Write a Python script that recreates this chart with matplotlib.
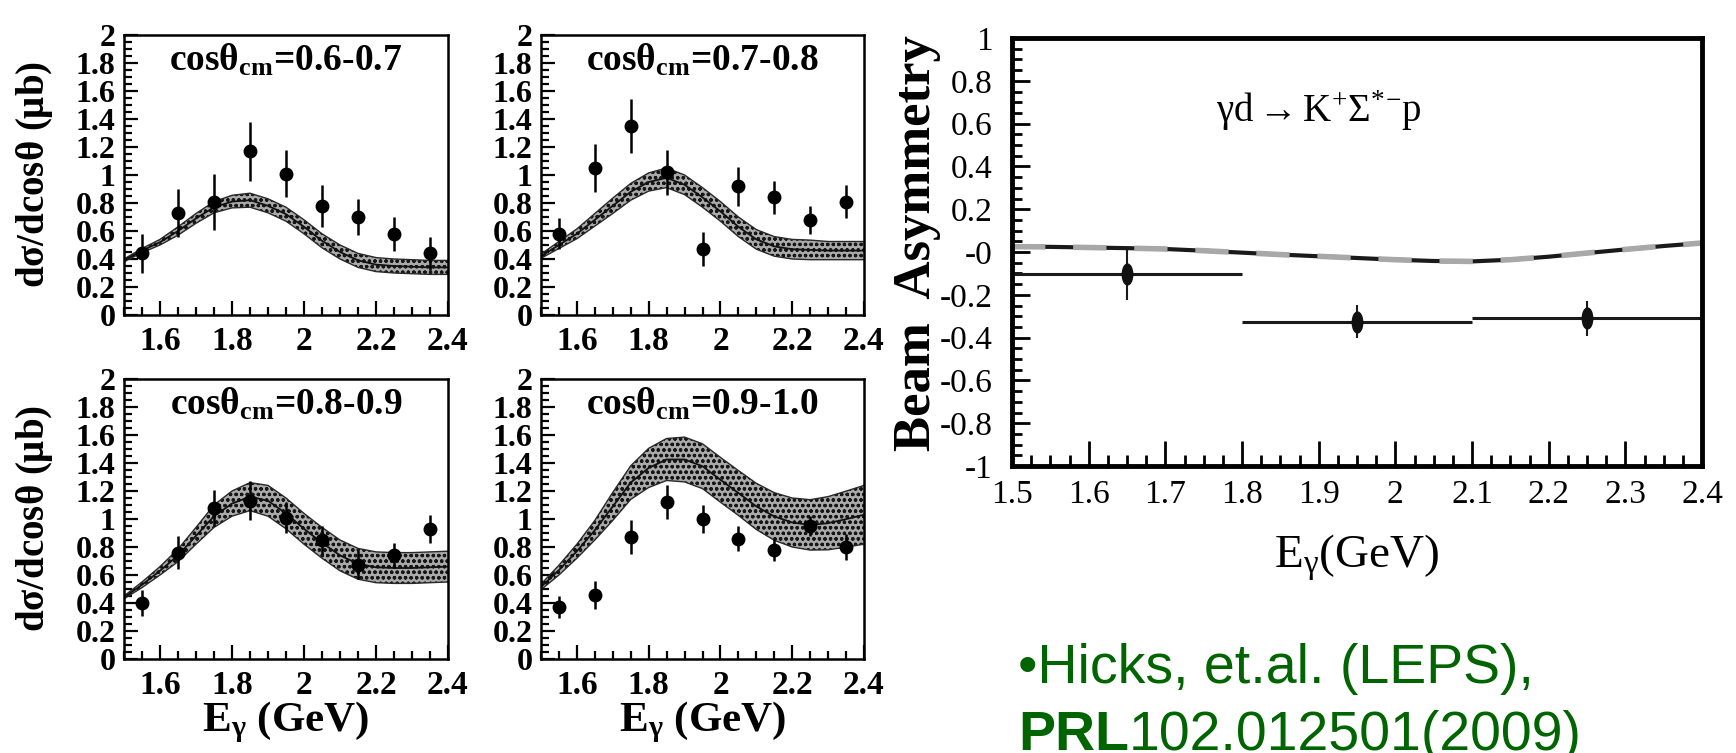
import numpy as np
import matplotlib
matplotlib.use("Agg")
import matplotlib.pyplot as plt
from matplotlib.path import Path
from matplotlib.markers import MarkerStyle
from matplotlib.transforms import Affine2D

plt.rcParams['font.family'] = ['Liberation Serif', 'DejaVu Serif']
plt.rcParams['mathtext.fontset'] = 'custom'
plt.rcParams['mathtext.rm'] = 'Liberation Serif'
plt.rcParams['mathtext.bf'] = 'Liberation Serif:bold'
plt.rcParams['mathtext.it'] = 'Liberation Serif:italic'
plt.rcParams['axes.unicode_minus'] = False
plt.rcParams['hatch.linewidth'] = 0.9

# cross sections, d sigma / d cos theta (mub), four angular bins
cos_bins = ['0.6-0.7', '0.7-0.8', '0.8-0.9', '0.9-1.0']
e_bins = [1.55, 1.65, 1.75, 1.85, 1.95, 2.05, 2.15, 2.25, 2.35]

xsec_06 = [0.44, 0.73, 0.81, 1.17, 1.01, 0.78, 0.70, 0.58, 0.44]
err_06 = [0.14, 0.17, 0.20, 0.21, 0.17, 0.15, 0.13, 0.12, 0.12]
xsec_07 = [0.58, 1.05, 1.35, 1.02, 0.47, 0.92, 0.84, 0.68, 0.81]
err_07 = [0.11, 0.17, 0.19, 0.16, 0.12, 0.14, 0.12, 0.10, 0.12]
xsec_08 = [0.40, 0.76, 1.08, 1.13, 1.01, 0.85, 0.67, 0.74, 0.93]
err_08 = [0.09, 0.12, 0.13, 0.14, 0.11, 0.10, 0.10, 0.09, 0.10]
xsec_09 = [0.37, 0.46, 0.87, 1.12, 1.00, 0.86, 0.78, 0.95, 0.80]
err_09 = [0.08, 0.10, 0.12, 0.12, 0.10, 0.09, 0.08, 0.07, 0.09]

# model curves and band half widths
model_e = [1.50, 1.55, 1.60, 1.65, 1.70, 1.75, 1.80, 1.85, 1.90, 1.95,
           2.00, 2.05, 2.10, 2.15, 2.20, 2.25, 2.30, 2.35, 2.40]
model_06 = [0.39, 0.46, 0.52, 0.60, 0.69, 0.77, 0.81, 0.82, 0.78, 0.72,
            0.63, 0.53, 0.45, 0.39, 0.36, 0.35, 0.345, 0.34, 0.34]
band_06 = [0.01, 0.015, 0.02, 0.03, 0.035, 0.04, 0.045, 0.05, 0.05, 0.05,
           0.05, 0.05, 0.05, 0.05, 0.05, 0.05, 0.05, 0.05, 0.05]
model_07 = [0.42, 0.50, 0.58, 0.68, 0.78, 0.88, 0.95, 0.98, 0.93, 0.84,
            0.74, 0.63, 0.54, 0.49, 0.47, 0.465, 0.46, 0.46, 0.46]
band_07 = [0.015, 0.025, 0.035, 0.045, 0.055, 0.06, 0.065, 0.07, 0.07, 0.07,
           0.07, 0.07, 0.07, 0.07, 0.07, 0.07, 0.065, 0.065, 0.065]
model_08 = [0.44, 0.53, 0.63, 0.74, 0.88, 1.02, 1.11, 1.16, 1.13, 1.04,
            0.93, 0.83, 0.74, 0.68, 0.655, 0.65, 0.65, 0.655, 0.66]
band_08 = [0.01, 0.02, 0.03, 0.045, 0.06, 0.08, 0.09, 0.10, 0.11, 0.11,
           0.11, 0.11, 0.11, 0.11, 0.11, 0.11, 0.11, 0.11, 0.11]
model_09 = [0.515, 0.635, 0.77, 0.92, 1.09, 1.26, 1.365, 1.425, 1.425, 1.377,
            1.28, 1.186, 1.09, 1.018, 0.975, 0.958, 0.97, 0.999, 1.03]
band_09 = [0.02, 0.035, 0.05, 0.07, 0.10, 0.12, 0.14, 0.15, 0.16, 0.16,
           0.16, 0.16, 0.165, 0.17, 0.175, 0.18, 0.19, 0.20, 0.21]

# beam asymmetry
asym_e = [1.65, 1.95, 2.25]
asym = [-0.105, -0.325, -0.31]
asym_err = [0.117, 0.077, 0.082]
asym_bin = [0.15, 0.15, 0.15]
asym_model_e = [1.50, 1.55, 1.60, 1.65, 1.70, 1.75, 1.80, 1.85, 1.90, 1.95,
                2.00, 2.05, 2.10, 2.15, 2.20, 2.25, 2.30, 2.35, 2.40]
asym_model = [0.025, 0.024, 0.021, 0.018, 0.014, 0.006, -0.003, -0.012, -0.02, -0.028,
              -0.036, -0.042, -0.044, -0.036, -0.022, -0.005, 0.012, 0.028, 0.042]

W, H = 1736, 753
fig = plt.figure(figsize=(W / 100, H / 100), dpi=100)


def box(x0, y0, x1, y1):
    # pixel box (top-left origin) -> figure fraction
    return [x0 / W, 1 - y1 / H, (x1 - x0) / W, (y1 - y0) / H]


def fmt(v):
    return '%g' % v


panels = [
    (box(124, 35, 448, 315), cos_bins[0], xsec_06, err_06, model_06, band_06),
    (box(541, 35, 864, 315), cos_bins[1], xsec_07, err_07, model_07, band_07),
    (box(124, 379, 448, 659), cos_bins[2], xsec_08, err_08, model_08, band_08),
    (box(541, 379, 864, 659), cos_bins[3], xsec_09, err_09, model_09, band_09),
]

xt_major = [1.6, 1.8, 2.0, 2.2, 2.4]
xt_minor = np.round(np.arange(1.5, 2.401, 0.05), 2)
yt_major = np.round(np.arange(0, 2.01, 0.2), 1)
yt_minor = np.round(np.arange(0, 2.01, 0.05), 2)

for i, (pos, lbl, y, err, model, band) in enumerate(panels):
    ax = fig.add_axes(pos)
    m = np.array(model)
    b = np.array(band)
    ax.fill_between(model_e, m - b, m + b, facecolor='#a9a9a9', edgecolor='#161616',
                    hatch='ooo', linewidth=0)
    ax.plot(model_e, m - b, color='#2a2a2a', lw=1.0)
    ax.plot(model_e, m + b, color='#2a2a2a', lw=1.0)
    ax.plot(model_e, m, color='#111111', lw=1.3)
    ax.errorbar(e_bins, y, yerr=err, fmt='o', color='black', ms=9,
                elinewidth=1.8, capsize=0)
    ax.set_xlim(1.5, 2.4)
    ax.set_ylim(0, 2)
    ax.set_xticks(xt_major)
    ax.set_xticklabels([fmt(v) for v in xt_major], fontweight='bold', fontsize=24)
    ax.set_xticks(xt_minor, minor=True)
    ax.set_yticks(yt_major)
    ax.set_yticklabels([fmt(v) for v in yt_major], fontweight='bold', fontsize=23)
    ax.set_yticks(yt_minor, minor=True)
    ax.tick_params(which='both', direction='in', width=1.6)
    ax.tick_params(which='major', length=10)
    ax.tick_params(which='minor', length=6)
    ax.tick_params(axis='y', pad=6)
    ax.tick_params(axis='x', pad=8)
    for s in ax.spines.values():
        s.set_linewidth(1.8)
    ax.text(0.5, 0.975, r'cos$\mathbf{\theta_{cm}}$=' + lbl, transform=ax.transAxes,
            ha='center', va='top', fontsize=27, fontweight='bold')
    if i % 2 == 0:
        ax.set_ylabel(r'd$\mathbf{\sigma}$/dcos$\mathbf{\theta}$ ($\mathbf{\mu}$b)',
                      fontsize=28, fontweight='bold')
        ax.yaxis.set_label_coords(-0.213, 0.5)
    if i >= 2:
        ax.set_xlabel(r'E$_{\mathbf{\gamma}}$ (GeV)', fontsize=31, fontweight='bold')
        ax.xaxis.set_label_coords(0.5, -0.145)

# right panel: beam asymmetry
axr = fig.add_axes(box(1012, 38, 1702, 466))
axr.plot(asym_model_e, asym_model, color='#1a1a1a', lw=3)
axr.plot(asym_model_e, asym_model, color='#a8a8a8', lw=4, dashes=(6, 5))

ell = Path.unit_circle().transformed(Affine2D().scale(0.5, 1.0))
axr.errorbar(asym_e, asym, xerr=asym_bin, fmt='none', ecolor='#1a1a1a',
             elinewidth=2.2, capsize=0)
axr.errorbar(asym_e, asym, yerr=asym_err, fmt='none', ecolor='#1a1a1a',
             elinewidth=1.5, capsize=0)
axr.plot(asym_e, asym, linestyle='none', marker=MarkerStyle(ell), color='#111111', ms=15)

axr.set_xlim(1.5, 2.4)
axr.set_ylim(-1, 1)
rx_major = np.round(np.arange(1.5, 2.401, 0.1), 1)
rx_minor = np.round(np.arange(1.5, 2.401, 0.025), 3)
ry_major = np.round(np.arange(-1, 1.01, 0.2), 1)
ry_minor = np.round(np.arange(-1, 1.01, 0.05), 2)
axr.set_xticks(rx_major)
axr.set_xticklabels([fmt(v) for v in rx_major], fontsize=24)
axr.set_xticks(rx_minor, minor=True)
axr.set_yticks(ry_major)
axr.set_yticklabels([fmt(v) for v in ry_major], fontsize=24)
axr.set_yticks(ry_minor, minor=True)
axr.tick_params(which='both', direction='in', width=2)
axr.tick_params(axis='x', which='major', length=18, pad=10)
axr.tick_params(axis='x', which='minor', length=8)
axr.tick_params(axis='y', which='major', length=13, pad=14)
axr.tick_params(axis='y', which='minor', length=7)
for s in axr.spines.values():
    s.set_linewidth(3.5)
axr.text(1.9, 0.66, r'$\mathrm{\gamma}$d$\rightarrow$K$^{+}\Sigma$$^{*}$$^{-}$p',
         ha='center', va='center', fontsize=28)
axr.set_ylabel('Beam  Asymmetry', fontsize=38, fontweight='bold')
axr.yaxis.set_label_coords(-0.103, 0.52)
axr.set_xlabel(r'E$_{\mathrm{\gamma}}$(GeV)', fontsize=34)
axr.xaxis.set_label_coords(0.5, -0.155)

# reference note
green = '#006400'
fig.text(1018 / W, 1 - 683 / H, '\u2022Hicks, et.al. (LEPS),', fontsize=40, color=green,
         family='Liberation Sans', va='baseline', ha='left')
prl = fig.text(1018 / W, 1 - 750 / H, 'PRL', fontsize=40, color=green,
               family='Liberation Sans', fontweight='bold', va='baseline', ha='left')
axr.annotate('102.012501(2009)', xy=(1, 1 - 750 / H), xycoords=(prl, 'figure fraction'),
             fontsize=40, color=green, family='Liberation Sans', va='baseline', ha='left',
             annotation_clip=False)

fig.savefig('out.png', dpi=100)
